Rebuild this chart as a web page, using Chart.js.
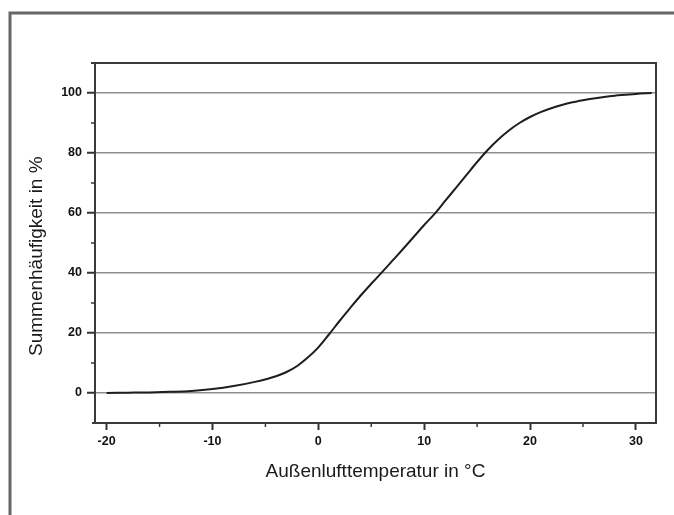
<!DOCTYPE html>
<html lang="de">
<head>
<meta charset="utf-8">
<title>Summenhäufigkeit der Außenlufttemperatur</title>
<script src="https://cdn.jsdelivr.net/npm/chart.js@4.4.1/dist/chart.umd.min.js"></script>
<style>
  html, body { margin: 0; padding: 0; background: #fff; }
  #wrap { width: 674px; height: 515px; position: relative; }
</style>
</head>
<body>
<div id="wrap"><canvas id="chart"></canvas></div>
<script>
// DATEN
const temperaturen = [-20, -18, -16, -14, -12, -10, -8, -6, -4, -3, -2, -1, 0, 1, 2, 3, 4, 5, 6, 7, 8, 9, 10,
  11, 12, 13, 14, 15, 16, 17, 18, 19, 20, 21, 22, 23, 24, 25, 26, 27, 28, 29, 30, 31.5];
const summenHaeufigkeit = [0, 0.1, 0.2, 0.4, 0.7, 1.3, 2.3, 3.7, 5.6, 7.0, 9.0, 11.8, 15.2, 19.5, 24, 28.3, 32.5, 36.4, 40.2, 44.1, 48, 52, 56,
  59.8, 64.1, 68.4, 72.7, 77, 81, 84.5, 87.5, 90, 92, 93.6, 94.9, 96, 96.9, 97.6, 98.2, 98.7, 99.1, 99.4, 99.7, 100];

const xTicks = [-20, -10, 0, 10, 20, 30];
const xMinorTicks = [-15, -5, 5, 15, 25];
const yTicks = [0, 20, 40, 60, 80, 100];
const yMinorTicks = [10, 30, 50, 70, 90];

const punkte = temperaturen.map((t, i) => ({ x: t, y: summenHaeufigkeit[i] }));

const schrift = "'Liberation Sans', Arial, Helvetica, sans-serif";

// Rahmen aussen + Rahmen um Diagramm + kleine Striche
const rahmenPlugin = {
  id: "rahmen",
  beforeDraw(chart) {
    const ctx = chart.ctx;
    ctx.save();
    ctx.fillStyle = "#fff";
    ctx.fillRect(0, 0, chart.width, chart.height);
    ctx.strokeStyle = "#676767";
    ctx.lineWidth = 3;
    ctx.beginPath();
    ctx.moveTo(chart.width, 13);
    ctx.lineTo(10, 13);
    ctx.lineTo(10, chart.height);
    ctx.stroke();
    ctx.restore();
  },
  afterDraw(chart) {
    const ctx = chart.ctx;
    const a = chart.chartArea;
    const xs = chart.scales.x;
    const ys = chart.scales.y;
    ctx.save();
    ctx.strokeStyle = "#3a3a3a";
    ctx.lineWidth = 2;
    ctx.beginPath();
    ctx.moveTo(a.left - 4, a.top);
    ctx.lineTo(a.right, a.top);
    ctx.lineTo(a.right, a.bottom);
    ctx.lineTo(a.left - 3, a.bottom);
    ctx.moveTo(a.left, a.top);
    ctx.lineTo(a.left, a.bottom);
    ctx.stroke();

    // kleine Striche
    ctx.lineWidth = 1.5;
    ctx.beginPath();
    yMinorTicks.forEach((v) => {
      const py = ys.getPixelForValue(v);
      ctx.moveTo(a.left - 4, py);
      ctx.lineTo(a.left, py);
    });
    xMinorTicks.forEach((v) => {
      const px = xs.getPixelForValue(v);
      ctx.moveTo(px, a.bottom);
      ctx.lineTo(px, a.bottom + 4);
    });
    ctx.stroke();
    ctx.restore();
  },
};

new Chart(document.getElementById("chart"), {
  type: "line",
  data: {
    datasets: [
      {
        data: punkte,
        borderColor: "#1e1e1e",
        borderWidth: 2,
        pointRadius: 0,
        cubicInterpolationMode: "monotone",
        fill: false,
      },
    ],
  },
  options: {
    responsive: true,
    maintainAspectRatio: false,
    animation: false,
    layout: { padding: { left: 0, top: 63, right: 18, bottom: 0 } },
    plugins: { legend: { display: false }, tooltip: { enabled: false } },
    scales: {
      x: {
        type: "linear",
        min: -21.1,
        max: 31.9,
        afterFit: (s) => { s.height = 92; },
        afterBuildTicks: (s) => { s.ticks = xTicks.map((v) => ({ value: v })); },
        border: { display: false },
        grid: {
          drawOnChartArea: false,
          drawTicks: true,
          tickLength: 7,
          tickColor: "#333",
          tickWidth: 2,
        },
        ticks: {
          color: "#111",
          padding: 4,
          maxRotation: 0,
          font: { family: schrift, size: 12.5, weight: "bold" },
        },
        title: {
          display: true,
          text: "Außenlufttemperatur in °C",
          color: "#1a1a1a",
          font: { family: schrift, size: 19 },
          padding: { top: 0, bottom: 32 },
        },
      },
      y: {
        type: "linear",
        min: -10,
        max: 110,
        afterFit: (s) => { s.width = 95; },
        afterBuildTicks: (s) => { s.ticks = yTicks.map((v) => ({ value: v })); },
        border: { display: false },
        grid: {
          color: "#8f8f8f",
          lineWidth: 1.5,
          drawTicks: true,
          tickLength: 8,
          tickColor: "#333",
          tickWidth: 2,
        },
        ticks: {
          color: "#111",
          padding: 5,
          font: { family: schrift, size: 12.5, weight: "bold" },
        },
        title: {
          display: true,
          text: "Summenhäufigkeit in %     ",
          color: "#1a1a1a",
          font: { family: schrift, size: 19 },
          padding: { top: 25, bottom: 0 },
        },
      },
    },
  },
  plugins: [rahmenPlugin],
});
</script>
</body>
</html>
